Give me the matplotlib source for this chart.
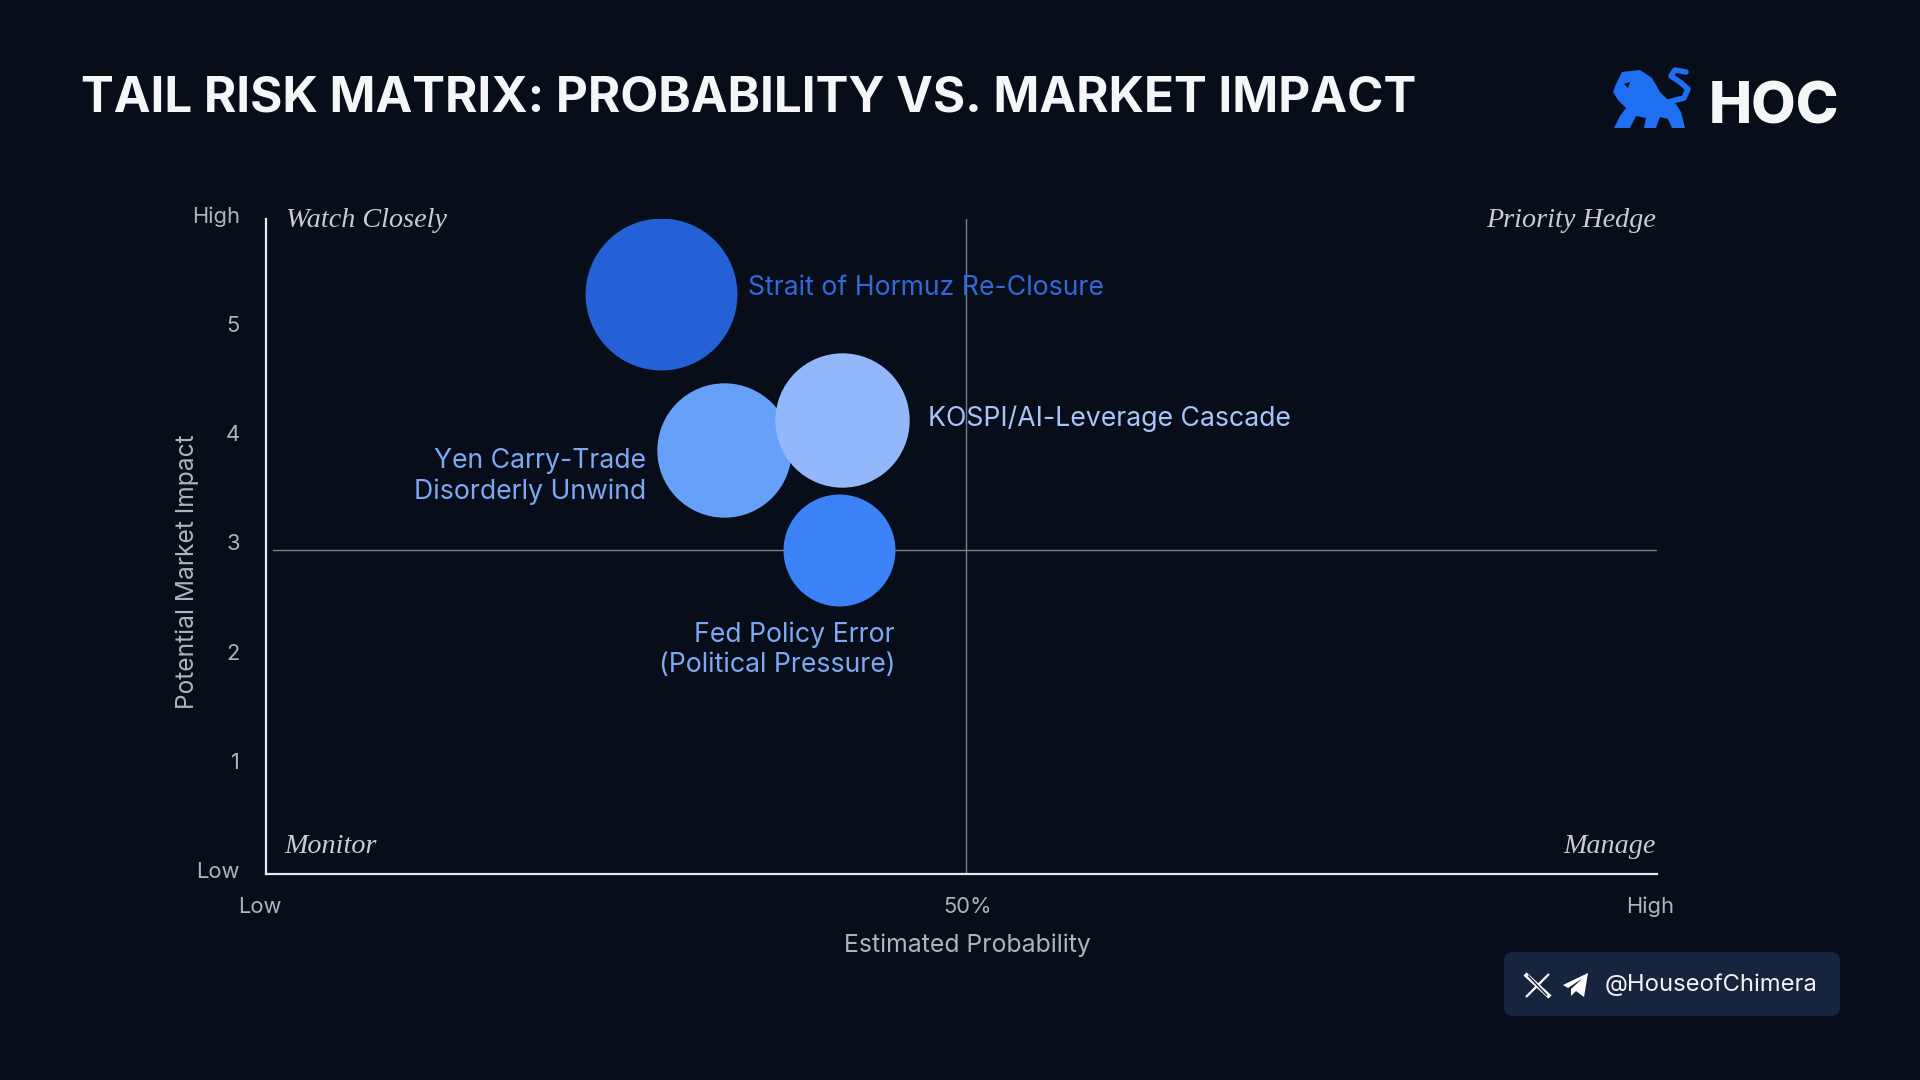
import matplotlib
matplotlib.use("Agg")
import matplotlib.pyplot as plt
import matplotlib.transforms as mtransforms
from matplotlib.patches import FancyBboxPatch, Polygon
from matplotlib.lines import Line2D

# ---------------- data ----------------
risks = ["Strait of Hormuz Re-Closure",
         "Yen Carry-Trade\nDisorderly Unwind",
         "KOSPI/AI-Leverage Cascade",
         "Fed Policy Error\n(Political Pressure)"]
probability = [28.4, 32.9, 41.4, 41.2]      # 0 (low) .. 100 (high)
impact = [5.31, 3.88, 4.16, 2.97]           # 0 (low) .. 6 (high)
severity = [9.2, 7.2, 7.2, 5.0]             # bubble area weight
x_tick_values = [0, 50, 100]
x_tick_labels = ["Low", "50%", "High"]
y_tick_values = [0, 1, 2, 3, 4, 5, 6]
y_tick_labels = ["Low", "1", "2", "3", "4", "5", "High"]
quadrant_names = ["Watch Closely", "Priority Hedge", "Monitor", "Manage"]
prob_threshold = 50.3
impact_threshold = 2.97
title = "TAIL RISK MATRIX: PROBABILITY VS. MARKET IMPACT"
handle = "@HouseofChimera"
brand = "HOC"

# ---------------- style ----------------
BG = "#070d19"
fill_colors = ["#2461d6", "#67a0f9", "#92b8fb", "#3b82f6"]
label_colors = ["#3169d9", "#7ea8f0", "#a9c5f8", "#7ea8f0"]
label_offsets = [(87, 6, "left"), (-78, -26, "right"), (86, 1, "left"), (56, -100, "right")]
xlabel_nudges = [-6, 6, -7]
TICK_C = "#aeb4bf"
QUAD_C = "#c9ccd3"
SANS = ["Inter", "DejaVu Sans"]
SERIF = ["Liberation Serif", "DejaVu Serif"]
SIZE_SCALE = 1300.0

W, H, DPI = 1920, 1080, 100
fig = plt.figure(figsize=(W / DPI, H / DPI), dpi=DPI, facecolor=BG)

# overlay axes in pixel coordinates for decorations
ov = fig.add_axes([0, 0, 1, 1], zorder=0)
ov.set_xlim(0, W)
ov.set_ylim(H, 0)
ov.axis("off")
ov.set_facecolor(BG)

# main axes
L, R, T, B = 266, 1657, 219, 874
ax = fig.add_axes([L / W, 1 - B / H, (R - L) / W, (B - T) / H], zorder=1)
ax.set_facecolor("none")
ax.set_xlim(0, 100)
ax.set_ylim(0, 6)
for s in ["top", "right"]:
    ax.spines[s].set_visible(False)
for s in ["left", "bottom"]:
    ax.spines[s].set_color("#e6e8ec")
    ax.spines[s].set_linewidth(1.6)
ax.set_xticks(x_tick_values)
ax.set_xticklabels(x_tick_labels)
ax.set_yticks(y_tick_values)
ax.set_yticklabels(y_tick_labels)
ax.tick_params(length=0, colors=TICK_C, labelsize=15.5)
ax.tick_params(axis="y", pad=18.7)
ax.tick_params(axis="x", pad=16.5)
up = mtransforms.ScaledTranslation(0, 4 / DPI, fig.dpi_scale_trans)
for t in ax.get_yticklabels():
    t.set_family(SANS)
    t.set_transform(t.get_transform() + up)
for t, dx in zip(ax.get_xticklabels(), xlabel_nudges):
    t.set_family(SANS)
    t.set_transform(t.get_transform() +
                    mtransforms.ScaledTranslation(dx / DPI, 0, fig.dpi_scale_trans))

ax.axvline(prob_threshold, color="#7b818c", lw=1.0, zorder=1)
ax.axhline(impact_threshold, xmin=0.005, xmax=1, color="#7b818c", lw=1.0, zorder=1)

sizes = [v * SIZE_SCALE for v in severity]
for i in range(len(risks)):
    ax.scatter([probability[i]], [impact[i]], s=sizes[i], color=fill_colors[i],
               linewidths=0, zorder=3 + i)

bubble_texts = []
for i, name in enumerate(risks):
    dx, dy, ha = label_offsets[i]
    t = ax.annotate(name, xy=(probability[i], impact[i]), xytext=(dx, dy),
                    textcoords="offset pixels", ha=ha, va="center",
                    multialignment=ha, color=label_colors[i], fontsize=18,
                    family=SANS, linespacing=1.2, zorder=10)
    bubble_texts.append(t)

# quadrant labels
quad_specs = [((0, 1), (20, -8), "left"), ((1, 1), (-1, -8), "right"),
              ((0, 0), (18, 21), "left"), ((1, 0), (-1, 21), "right")]
quad_texts = []
for name, (xy, off, ha) in zip(quadrant_names, quad_specs):
    t = ax.annotate(name, xy=xy, xycoords="axes fraction", xytext=off,
                    textcoords="offset pixels", ha=ha, va="baseline",
                    color=QUAD_C, fontsize=20, family=SERIF, style="italic")
    quad_texts.append(t)

ax.set_xlabel("Estimated Probability", color=TICK_C, fontsize=15, family=SANS)
ax.set_ylabel("Potential Market Impact", color=TICK_C, fontsize=15, family=SANS)
ax.xaxis.label.set_va("center")
ax.yaxis.label.set_va("center")
ax.xaxis.set_label_coords((967 - L) / (R - L), (B - 945) / (B - T))
ax.yaxis.set_label_coords((187 - L) / (R - L), (B - 572) / (B - T))

# title
ttl = fig.text(81 / W, 1 - 112 / H, title, color="#f5f6f8", fontsize=38,
               fontweight="bold", family=SANS, ha="left", va="baseline")

# logo: lion + HOC
lion = [(1622, 72), (1640, 70), (1652, 78), (1660, 92), (1668, 100), (1676, 104),
        (1681, 112), (1685, 128), (1672, 128), (1668, 119), (1660, 117), (1656, 128),
        (1644, 128), (1646, 118), (1636, 116), (1630, 128), (1614, 128), (1620, 116),
        (1626, 108), (1618, 100), (1613, 92), (1616, 84)]
ov.add_patch(Polygon(lion, closed=True, color="#1f6ff2", lw=0))
ov.add_line(Line2D([1668, 1684, 1688, 1680, 1671, 1675, 1686],
                   [102, 98, 89, 82, 76, 70, 72], color="#1f6ff2", lw=4,
                   solid_capstyle="round", solid_joinstyle="round"))
ov.add_patch(Polygon([(1624, 84), (1630, 82), (1628, 88)], closed=True, color=BG, lw=0))
hoc = ov.text(1709, 123, brand, color="#f5f6f8", fontsize=44, fontweight="heavy",
              family=SANS, ha="left", va="baseline")

# footer badge
ov.add_patch(FancyBboxPatch((1504, 952), 336, 64,
                            boxstyle="round,pad=0,rounding_size=9",
                            facecolor="#17243d", edgecolor="none"))
ov.add_line(Line2D([1525, 1550], [974, 997], color="white", lw=3.2, solid_capstyle="butt"))
ov.add_line(Line2D([1549, 1526], [974, 997], color="white", lw=1.6, solid_capstyle="butt"))
ov.add_line(Line2D([1528, 1547], [975.5, 995.5], color="#17243d", lw=1.0, solid_capstyle="butt"))
plane = [(1563, 985), (1588, 973), (1584, 997), (1576, 991), (1571, 996),
         (1571, 989), (1583, 978), (1568, 988)]
ov.add_patch(Polygon(plane, closed=True, color="white", lw=0))
hnd = ov.text(1605, 985, handle, color="#f1f3f6", fontsize=17, family=SANS,
              ha="left", va="center")

# ---- fit text widths to the reference ----
fig.canvas.draw()
rend = fig.canvas.get_renderer()


def fit(t, target, vertical=False):
    bb = t.get_window_extent(rend)
    cur = bb.height if vertical else bb.width
    t.set_fontsize(t.get_fontsize() * target / cur)


fit(ttl, 1336)
fit(hnd, 213)
fit(hoc, 131)
fit(bubble_texts[0], 356)
for t in bubble_texts[1:]:
    t.set_fontsize(bubble_texts[0].get_fontsize())
fit(quad_texts[0], 161)
for t in quad_texts[1:]:
    t.set_fontsize(quad_texts[0].get_fontsize())
fit(ax.xaxis.label, 247)
fit(ax.yaxis.label, 275, vertical=True)
hi = ax.get_yticklabels()[-1]
w = hi.get_window_extent(rend).width
ax.tick_params(labelsize=hi.get_fontsize() * 48 / w)

fig.savefig("out.png", dpi=DPI, facecolor=BG)
